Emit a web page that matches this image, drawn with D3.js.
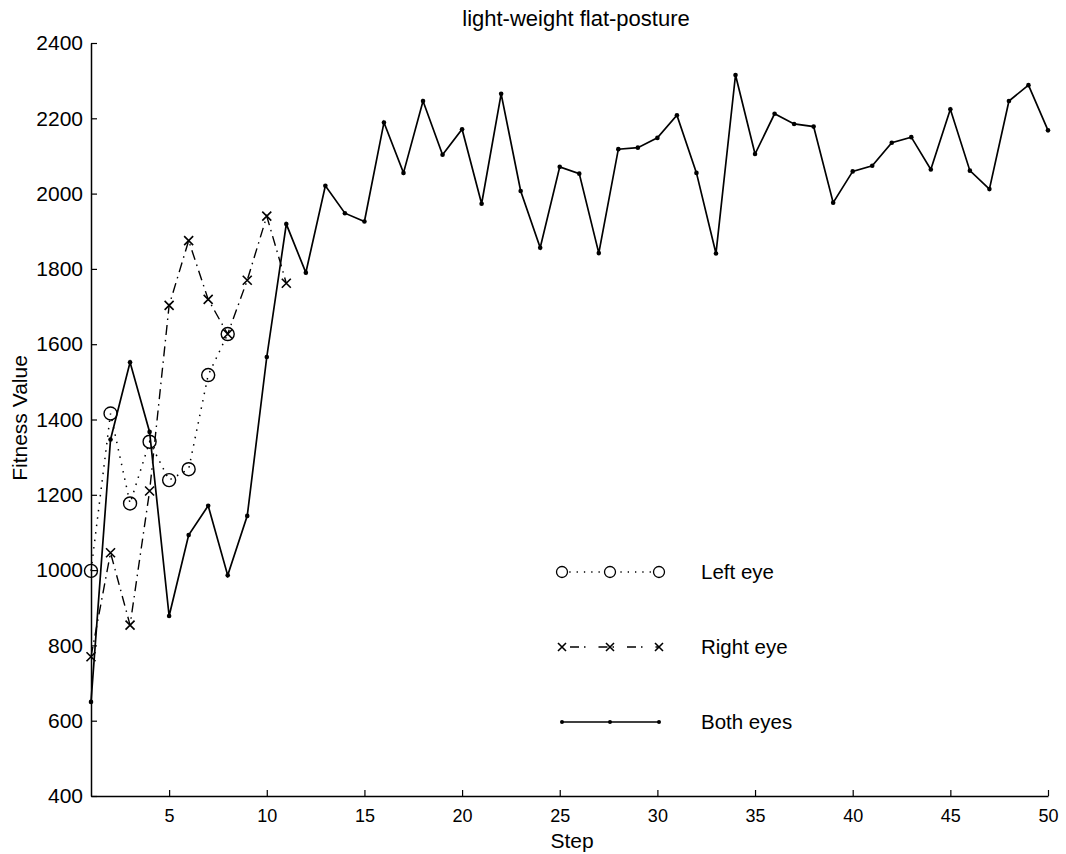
<!DOCTYPE html>
<html>
<head>
<meta charset="utf-8">
<script src="https://cdn.jsdelivr.net/npm/d3@7"></script>
<style>
  body { margin: 0; background: #fff; }
  svg { display: block; font-family: "Liberation Sans", Arial, Helvetica, sans-serif; }
</style>
</head>
<body>
<div id="viz"></div>
<script>
// fitness per step
var leftSteps  = [1, 2, 3, 4, 5, 6, 7, 8];
var leftEye    = [998, 1416, 1177, 1341, 1239, 1268, 1518, 1627];

var rightSteps = [1, 2, 3, 4, 5, 6, 7, 8, 9, 10, 11];
var rightEye   = [770, 1046, 854, 1210, 1703, 1875, 1719, 1627, 1770, 1940, 1762];

var bothSteps = d3.range(1, 51);
var bothEyes  = [650, 1347, 1552, 1367, 878, 1093, 1171, 986, 1144, 1566,
                 1919, 1790, 2021, 1948, 1926, 2189, 2055, 2246, 2103, 2171,
                 1973, 2265, 2007, 1856, 2071, 2053, 1842, 2118, 2122, 2148,
                 2208, 2055, 1841, 2315, 2105, 2212, 2185, 2178, 1976, 2059,
                 2074, 2135, 2150, 2064, 2224, 2061, 2012, 2246, 2288, 2168];

var xTicks = [5, 10, 15, 20, 25, 30, 35, 40, 45, 50];
var yTicks = [400, 600, 800, 1000, 1200, 1400, 1600, 1800, 2000, 2200, 2400];

var legendNames = ['Left eye', 'Right eye', 'Both eyes'];

var width = 1066,
    height = 854,
    margin = {top: 43, right: 18, bottom: 58, left: 91};

var svg = d3.select('#viz').append('svg')
    .attr('width', width)
    .attr('height', height);

var x = d3.scaleLinear()
    .domain([1, 50])
    .range([margin.left, width - margin.right]);

var y = d3.scaleLinear()
    .domain([400, 2400])
    .range([height - margin.bottom, margin.top]);

// axes, ticks pointing inward
var xAxis = svg.append('g')
    .attr('transform', 'translate(0,' + (height - margin.bottom) + ')')
    .call(d3.axisBottom(x).tickValues(xTicks).tickFormat(d3.format('d'))
        .tickSizeInner(-6).tickSizeOuter(0).tickPadding(13));

var yAxis = svg.append('g')
    .attr('transform', 'translate(' + margin.left + ',0)')
    .call(d3.axisLeft(y).tickValues(yTicks).tickFormat(d3.format('d'))
        .tickSizeInner(-6).tickSizeOuter(0).tickPadding(8));

xAxis.attr('font-family', null);
yAxis.attr('font-family', null);
xAxis.selectAll('text').attr('font-size', 18).attr('fill', '#000');
yAxis.selectAll('text').attr('font-size', 21).attr('fill', '#000');
svg.selectAll('.domain').attr('stroke', '#000').attr('stroke-width', 1.5);
svg.selectAll('.tick line').attr('stroke', '#000').attr('stroke-width', 1.2);

// titles
svg.append('text')
    .attr('x', 576).attr('y', 26)
    .attr('text-anchor', 'middle')
    .attr('font-size', 22)
    .text('light-weight flat-posture');

svg.append('text')
    .attr('x', 572).attr('y', 848)
    .attr('text-anchor', 'middle')
    .attr('font-size', 21)
    .text('Step');

svg.append('text')
    .attr('transform', 'translate(27,418) rotate(-90)')
    .attr('text-anchor', 'middle')
    .attr('font-size', 21)
    .text('Fitness Value');

var line = d3.line()
    .x(function(d) { return x(d[0]); })
    .y(function(d) { return y(d[1]); });

var leftData  = d3.zip(leftSteps, leftEye);
var rightData = d3.zip(rightSteps, rightEye);
var bothData  = d3.zip(bothSteps, bothEyes);

// both eyes: solid with small dots
svg.append('path')
    .datum(bothData)
    .attr('d', line)
    .attr('fill', 'none')
    .attr('stroke', '#000')
    .attr('stroke-width', 1.7);

svg.append('g').selectAll('circle')
    .data(bothData)
    .enter().append('circle')
    .attr('cx', function(d) { return x(d[0]); })
    .attr('cy', function(d) { return y(d[1]); })
    .attr('r', 2.3)
    .attr('fill', '#000');

// right eye: dash-dot with crosses
svg.append('path')
    .datum(rightData)
    .attr('d', line)
    .attr('fill', 'none')
    .attr('stroke', '#000')
    .attr('stroke-width', 1.4)
    .attr('stroke-dasharray', '10,5,1.5,5');

function cross(g, s) {
    g.append('path')
        .attr('d', 'M' + (-s) + ',' + (-s) + 'L' + s + ',' + s + 'M' + (-s) + ',' + s + 'L' + s + ',' + (-s))
        .attr('stroke', '#000')
        .attr('stroke-width', 1.6)
        .attr('fill', 'none');
}

svg.append('g').selectAll('g')
    .data(rightData)
    .enter().append('g')
    .attr('transform', function(d) { return 'translate(' + x(d[0]) + ',' + y(d[1]) + ')'; })
    .each(function() { cross(d3.select(this), 4.5); });

// left eye: dotted with open circles
svg.append('path')
    .datum(leftData)
    .attr('d', line)
    .attr('fill', 'none')
    .attr('stroke', '#000')
    .attr('stroke-width', 1.5)
    .attr('stroke-dasharray', '1.5,6');

svg.append('g').selectAll('circle')
    .data(leftData)
    .enter().append('circle')
    .attr('cx', function(d) { return x(d[0]); })
    .attr('cy', function(d) { return y(d[1]); })
    .attr('r', 6.5)
    .attr('fill', 'none')
    .attr('stroke', '#000')
    .attr('stroke-width', 1.4);

// legend
var legend = svg.append('g');
var lx = [562, 610, 659];

legendNames.forEach(function(name, i) {
    var ly = 572 + i * 75;
    var g = legend.append('g');
    var seg = g.append('line')
        .attr('x1', lx[0]).attr('x2', lx[2])
        .attr('y1', ly).attr('y2', ly)
        .attr('stroke', '#000');
    if (i === 0) {
        seg.attr('stroke-width', 1.3).attr('stroke-dasharray', '1.3,6');
        lx.forEach(function(px) {
            g.append('circle').attr('cx', px).attr('cy', ly).attr('r', 5.5)
                .attr('fill', '#fff').attr('stroke', '#000').attr('stroke-width', 1.3);
        });
    } else if (i === 1) {
        seg.attr('stroke-width', 1.3).attr('stroke-dasharray', '0,8,9,5,1.5,5');
        lx.forEach(function(px) {
            cross(g.append('g').attr('transform', 'translate(' + px + ',' + ly + ')'), 4);
        });
    } else {
        seg.attr('stroke-width', 1.4);
        lx.forEach(function(px) {
            g.append('circle').attr('cx', px).attr('cy', ly).attr('r', 2).attr('fill', '#000');
        });
    }
    g.append('text')
        .attr('x', 701).attr('y', ly + 7)
        .attr('font-size', 20.5)
        .text(name);
});
</script>
</body>
</html>
